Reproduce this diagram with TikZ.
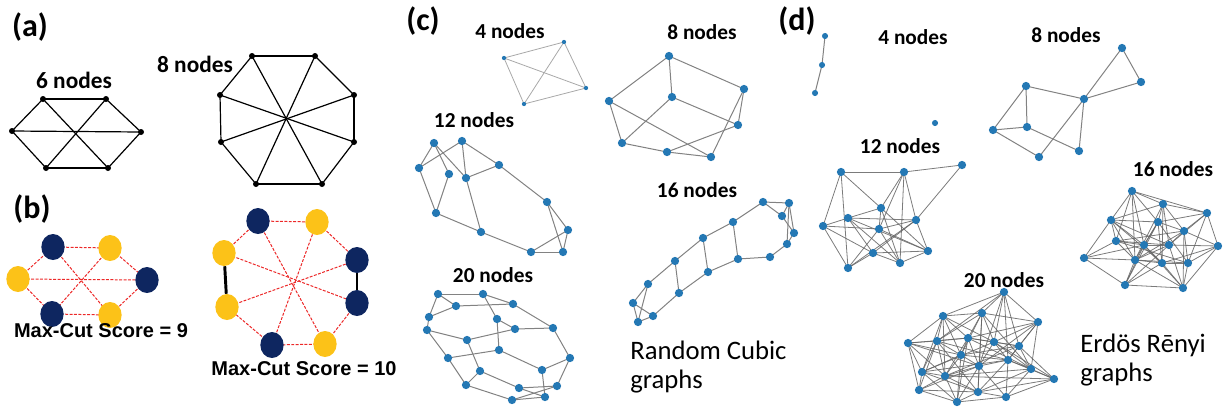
\documentclass[tikz,border=0pt]{standalone}
\usepackage{fontspec}
\setmainfont{Carlito}
\newfontfamily\scorefont{Liberation Sans}
\usetikzlibrary{shapes.geometric}
\pgfdeclarelayer{bg}
\pgfsetlayers{bg,main}
\definecolor{navy}{RGB}{14,38,96}
\definecolor{gold}{RGB}{252,194,24}
\definecolor{nxblue}{RGB}{36,120,180}
\definecolor{edgegray}{RGB}{130,130,130}
\definecolor{densegray}{RGB}{100,100,100}
\definecolor{cutred}{RGB}{236,40,40}
\tikzset{
  dot/.style={circle, fill=black, inner sep=0pt, minimum size=4.5pt},
  aedge/.style={black, line width=0.9pt},
  navyv/.style={ellipse, fill=navy, inner sep=0pt, minimum width=17.5pt, minimum height=19.5pt},
  goldv/.style={ellipse, fill=gold, inner sep=0pt, minimum width=17.5pt, minimum height=19.5pt},
  cutedge/.style={cutred, dash pattern=on 2.2pt off 1.1pt, line width=0.75pt},
  samecut/.style={black, line width=2.2pt},
  gv/.style={circle, fill=nxblue, inner sep=0pt, minimum size=6.2pt},
  gvtiny/.style={circle, fill=nxblue, inner sep=0pt, minimum size=3.2pt},
  gvsmall/.style={circle, fill=nxblue, inner sep=0pt, minimum size=4.6pt},
  ge/.style={edgegray, line width=0.75pt},
  gelight/.style={edgegray!70, line width=0.6pt},
  de/.style={densegray, line width=0.6pt, opacity=0.85},
  panel/.style={font=\bfseries\fontsize{24}{28}\selectfont, inner sep=0pt},
  alab/.style={font=\bfseries\fontsize{17.5}{20}\selectfont, inner sep=0pt},
  lab/.style={font=\bfseries\fontsize{16}{18}\selectfont, inner sep=0pt},
  score/.style={font=\scorefont\bfseries\fontsize{15}{18}\selectfont, inner sep=0pt},
  family/.style={font=\fontsize{20}{21.75}\selectfont, inner sep=0pt, align=left, anchor=base west},
}
\begin{document}
\begin{tikzpicture}[x=0.75pt, y=-0.75pt]
\useasboundingbox (0,0) rectangle (1224,408);

% ---------------- panel labels ----------------
\node[panel] (pa) at (30,27) {(a)};
\node[panel] (pb) at (32,209) {(b)};
\node[panel] (pc) at (423,21) {(c)};
\node[panel] (pd) at (797,21) {(d)};

% ---------------- (a) 6-node graph ----------------
\node[alab] (la6) at (74,80) {6 nodes};
\node[dot] (a1) at (43,99) {};
\node[dot] (a2) at (106,99) {};
\node[dot] (a3) at (12,131) {};
\node[dot] (a4) at (141,132) {};
\node[dot] (a5) at (46,168) {};
\node[dot] (a6) at (108,168) {};
\begin{pgfonlayer}{bg}
\foreach \u/\v in {a1/a2,a5/a6,a3/a1,a3/a5,a2/a4,a4/a6,a3/a4,a1/a6,a2/a5}
  \draw[aedge] (\u.center) -- (\v.center);
\end{pgfonlayer}

% ---------------- (a) 8-node graph ----------------
\node[alab] (la8) at (195,64) {8 nodes};
\node[dot] (o1) at (252,56) {};
\node[dot] (o2) at (315,56) {};
\node[dot] (o3) at (354,95) {};
\node[dot] (o4) at (354,142) {};
\node[dot] (o5) at (322,184) {};
\node[dot] (o6) at (256,184) {};
\node[dot] (o7) at (221,142) {};
\node[dot] (o8) at (220,95) {};
\begin{pgfonlayer}{bg}
\foreach \u/\v in {o1/o2,o2/o3,o3/o4,o4/o5,o5/o6,o6/o7,o7/o8,o8/o1,o1/o5,o2/o6,o8/o4,o7/o3}
  \draw[aedge] (\u.center) -- (\v.center);
\end{pgfonlayer}

% ---------------- (b) 6-node cut ----------------
\node[navyv] (b1) at (53,247) {};
\node[goldv] (b2) at (110,248) {};
\node[goldv] (b3) at (18,279) {};
\node[navyv] (b4) at (147,280) {};
\node[navyv] (b5) at (52,314) {};
\node[goldv] (b6) at (110,315) {};
\begin{pgfonlayer}{bg}
\foreach \u/\v in {b1/b2,b5/b6,b3/b1,b3/b5,b2/b4,b4/b6,b3/b4,b1/b6,b2/b5}
  \draw[cutedge] (\u.center) -- (\v.center);
\end{pgfonlayer}
\node[score] (s9) at (101,331) {Max-Cut Score = 9};

% ---------------- (b) 8-node cut ----------------
\node[navyv] (m1) at (258,221) {};
\node[goldv] (m2) at (317,222) {};
\node[navyv] (m3) at (357,260) {};
\node[navyv] (m4) at (357,303) {};
\node[goldv] (m5) at (325,344) {};
\node[navyv] (m6) at (272,345) {};
\node[goldv] (m7) at (227,307) {};
\node[goldv] (m8) at (224,253) {};
\begin{pgfonlayer}{bg}
\foreach \u/\v in {m1/m2,m2/m3,m4/m5,m5/m6,m6/m7,m8/m1,m1/m5,m2/m6,m8/m4,m7/m3}
  \draw[cutedge] (\u.center) -- (\v.center);
\draw[samecut] (m3) -- (m4);
\draw[samecut] (m7) -- (m8);
\end{pgfonlayer}
\node[score] (s10) at (304,369) {Max-Cut Score = 10};

% ---------------- (c) random cubic, 4 nodes ----------------
\node[lab] (lc4) at (510,31) {4 nodes};
\node[gvtiny] (c4a) at (504,58) {};
\node[gvtiny] (c4b) at (564,42) {};
\node[gvtiny] (c4c) at (586,88) {};
\node[gvtiny] (c4d) at (524,104) {};
\begin{pgfonlayer}{bg}
\foreach \u/\v in {c4a/c4b,c4a/c4c,c4a/c4d,c4b/c4c,c4b/c4d,c4c/c4d}
  \draw[gelight] (\u.center) -- (\v.center);
\end{pgfonlayer}

% ---------------- (c) random cubic, 8 nodes ----------------
\node[lab] (lc8) at (702,32) {8 nodes};
\foreach \n/\x/\y in {A/669/56,B/744/89,C/672/97,D/609/101,E/738/125,F/622/143,G/667/152,H/711/157}
  \node[gv] (c8\n) at (\x,\y) {};
\begin{pgfonlayer}{bg}
\foreach \u/\v in {A/D,A/B,A/C,C/E,C/F,B/E,B/H,D/F,D/H,F/G,G/H,G/E}
  \draw[ge] (c8\u.center) -- (c8\v.center);
\end{pgfonlayer}

% ---------------- (c) random cubic, 12 nodes ----------------
\node[lab] (lc12) at (474,120) {12 nodes};
\foreach \n/\x/\y in {1/434/143,2/462/141,3/419/168,4/449/174,5/466/178,6/499/165,
                      7/547/202,8/436/213,9/481/232,10/568/230,11/531/252,12/563/252}
  \node[gv] (c12n\n) at (\x,\y) {};
\begin{pgfonlayer}{bg}
\foreach \u/\v in {1/3,1/5,3/2,2/5,2/6,5/6,1/4,4/8,3/8,5/9,8/9,6/7,9/11,7/10,7/12,10/11,10/12,11/12}
  \draw[ge] (c12n\u.center) -- (c12n\v.center);
\end{pgfonlayer}

% ---------------- (c) random cubic, 16 nodes ----------------
\node[lab] (lc16) at (697,190) {16 nodes};
\foreach \n/\x/\y in {A/763/202,B/789/203,C/782/216,D/733/222,E/794/233,F/787/244,G/703/238,H/770/257,
                      I/738/259,J/675/261,K/708/272,L/648/284,M/679/293,N/633/303,O/653/316,P/638/322}
  \node[gv] (c16\n) at (\x,\y) {};
\begin{pgfonlayer}{bg}
\foreach \u/\v in {A/B,A/C,A/D,B/C,B/E,B/F,C/E,E/F,F/H,D/G,D/I,G/J,G/K,J/L,J/M,L/N,L/P,N/P,N/O,O/P,
                   O/M,M/K,K/I,I/H}
  \draw[ge] (c16\u.center) -- (c16\v.center);
\end{pgfonlayer}

% ---------------- (c) random cubic, 20 nodes ----------------
\node[lab] (lc20) at (493,275) {20 nodes};
\foreach \n/\x/\y in {a/438/294,b/483/294,c/456/306,d/513/304,e/429/317,f/427/330,g/497/319,h/515/329,
                      i/553/328,j/467/340,k/499/350,l/448/358,m/570/358,n/480/371,o/542/370,p/466/385,
                      q/519/388,r/557/386,s/512/400,t/545/397}
  \node[gv] (c20\n) at (\x,\y) {};
\begin{pgfonlayer}{bg}
\foreach \u/\v in {a/b,a/c,a/e,b/d,b/g,c/d,c/e,d/i,e/f,f/l,f/j,g/h,g/k,h/i,h/j,i/m,j/n,k/l,k/o,l/p,
                   m/o,m/r,n/p,n/q,o/t,p/s,q/r,q/t,r/s,s/t}
  \draw[ge] (c20\u.center) -- (c20\v.center);
\end{pgfonlayer}

% family caption: the anchor sits on the baseline of the last line
\node[family] (fc) at (630,388) {Random Cubic\\graphs};

% ---------------- (d) Erdos-Renyi, 4 nodes ----------------
\node[lab] (ld4) at (913,37) {4 nodes};
\node[gvsmall] (d4a) at (825,36) {};
\node[gvsmall] (d4b) at (822,65) {};
\node[gvsmall] (d4c) at (815,93) {};
\node[gvsmall] (d4d) at (935,123) {};
\begin{pgfonlayer}{bg}
\draw[ge] (d4a.center) -- (d4b.center);
\draw[ge] (d4b.center) -- (d4c.center);
\end{pgfonlayer}

% ---------------- (d) Erdos-Renyi, 8 nodes ----------------
\node[lab] (ld8) at (1066,35) {8 nodes};
\foreach \n/\x/\y in {a/1122/48,b/1141/82,c/1026/86,d/1084/99,e/993/130,f/1027/127,g/1039/157,h/1079/151}
  \node[gv] (d8\n) at (\x,\y) {};
\begin{pgfonlayer}{bg}
\foreach \u/\v in {a/d,a/b,b/d,c/d,c/f,c/e,e/f,e/g,f/h,d/h,d/g}
  \draw[ge] (d8\u.center) -- (d8\v.center);
\end{pgfonlayer}

% ---------------- (d) Erdos-Renyi, 12 nodes ----------------
\node[lab] (ld12) at (900,146) {12 nodes};
\foreach \n/\x/\y in {1/841/172,2/904/172,3/962/165,4/881/208,5/848/218,6/916/220,
                      7/823/226,8/879/229,9/873/253,10/928/251,11/900/263,12/848/268}
  \node[gv] (d12p\n) at (\x,\y) {};
\begin{pgfonlayer}{bg}
\foreach \u/\v in {1/2,2/3,1/7,1/4,1/12,2/4,2/8,2/6,2/11,3/6,4/5,4/8,4/10,4/11,5/7,5/6,5/10,5/9,5/11,
                   6/8,6/9,6/10,6/12,7/8,7/9,7/12,8/10,8/11,8/12,9/10,9/11,9/12,10/11}
  \draw[de] (d12p\u.center) -- (d12p\v.center);
\end{pgfonlayer}

% ---------------- (d) Erdos-Renyi, 16 nodes ----------------
\node[lab] (ld16) at (1173,169) {16 nodes};
\foreach \n/\x/\y in {1/1132/191,2/1163/204,3/1207/213,4/1111/220,5/1158/222,6/1184/231,7/1116/241,8/1144/245,
                      9/1169/245,10/1218/246,11/1084/258,12/1135/260,13/1162/263,14/1188/263,15/1125/285,16/1183/288}
  \node[gv] (d16q\n) at (\x,\y) {};
\begin{pgfonlayer}{bg}
\foreach \u/\v in {1/2,1/3,1/4,1/7,1/8,1/5,1/12,2/3,2/4,2/5,2/6,2/9,2/13,2/12,3/5,3/6,3/10,3/9,3/14,
                   4/5,4/7,4/8,4/9,4/11,4/12,4/13,5/6,5/8,5/12,5/13,5/14,5/15,6/7,6/9,6/10,6/12,6/14,6/16,
                   7/8,7/9,7/11,7/12,7/14,8/9,8/13,8/15,8/16,8/11,9/10,9/12,9/15,9/16,10/14,10/16,10/13,
                   11/12,11/15,12/13,12/14,12/15,12/16,13/14,13/15,13/16,14/16,15/16}
  \draw[de] (d16q\u.center) -- (d16q\v.center);
\end{pgfonlayer}

% ---------------- (d) Erdos-Renyi, 20 nodes ----------------
\node[lab] (ld20) at (1004,280) {20 nodes};
\foreach \n/\x/\y in {1/1004/292,2/943/316,3/982/313,4/1038/322,5/908/343,6/937/341,7/968/338,8/994/342,
                      9/1019/346,10/961/355,11/1008/360,12/979/366,13/1031/369,14/922/372,15/945/376,
                      16/1054/379,17/919/390,18/978/392,19/957/402,20/1006/397}
  \node[gv] (d20r\n) at (\x,\y) {};
\begin{pgfonlayer}{bg}
\foreach \u/\v in {1/2,1/3,1/4,1/6,1/8,1/9,1/11,1/12,2/3,2/5,2/6,2/7,2/10,2/14,2/15,2/8,
                   3/4,3/6,3/7,3/8,3/10,3/12,3/13,3/18,4/8,4/9,4/11,4/13,4/12,4/7,
                   5/6,5/14,5/17,5/15,5/7,5/10,5/12,6/7,6/10,6/14,6/15,6/17,6/18,6/11,
                   7/8,7/9,7/10,7/12,7/19,7/15,7/13,8/9,8/11,8/12,8/13,8/14,8/16,
                   9/11,9/13,9/16,9/10,9/15,10/12,10/14,10/15,10/19,10/11,
                   11/12,11/13,11/16,11/18,11/20,11/14,12/15,12/17,12/18,12/20,12/19,
                   13/16,13/20,13/18,13/15,14/15,14/17,14/19,14/18,15/17,15/19,15/18,15/16,
                   17/18,17/19,18/19,18/20,18/16,19/20,20/16}
  \draw[de] (d20r\u.center) -- (d20r\v.center);
\end{pgfonlayer}

\node[family] (fd) at (1080,381) {Erdös Rēnyi\\graphs};

\end{tikzpicture}
\end{document}
